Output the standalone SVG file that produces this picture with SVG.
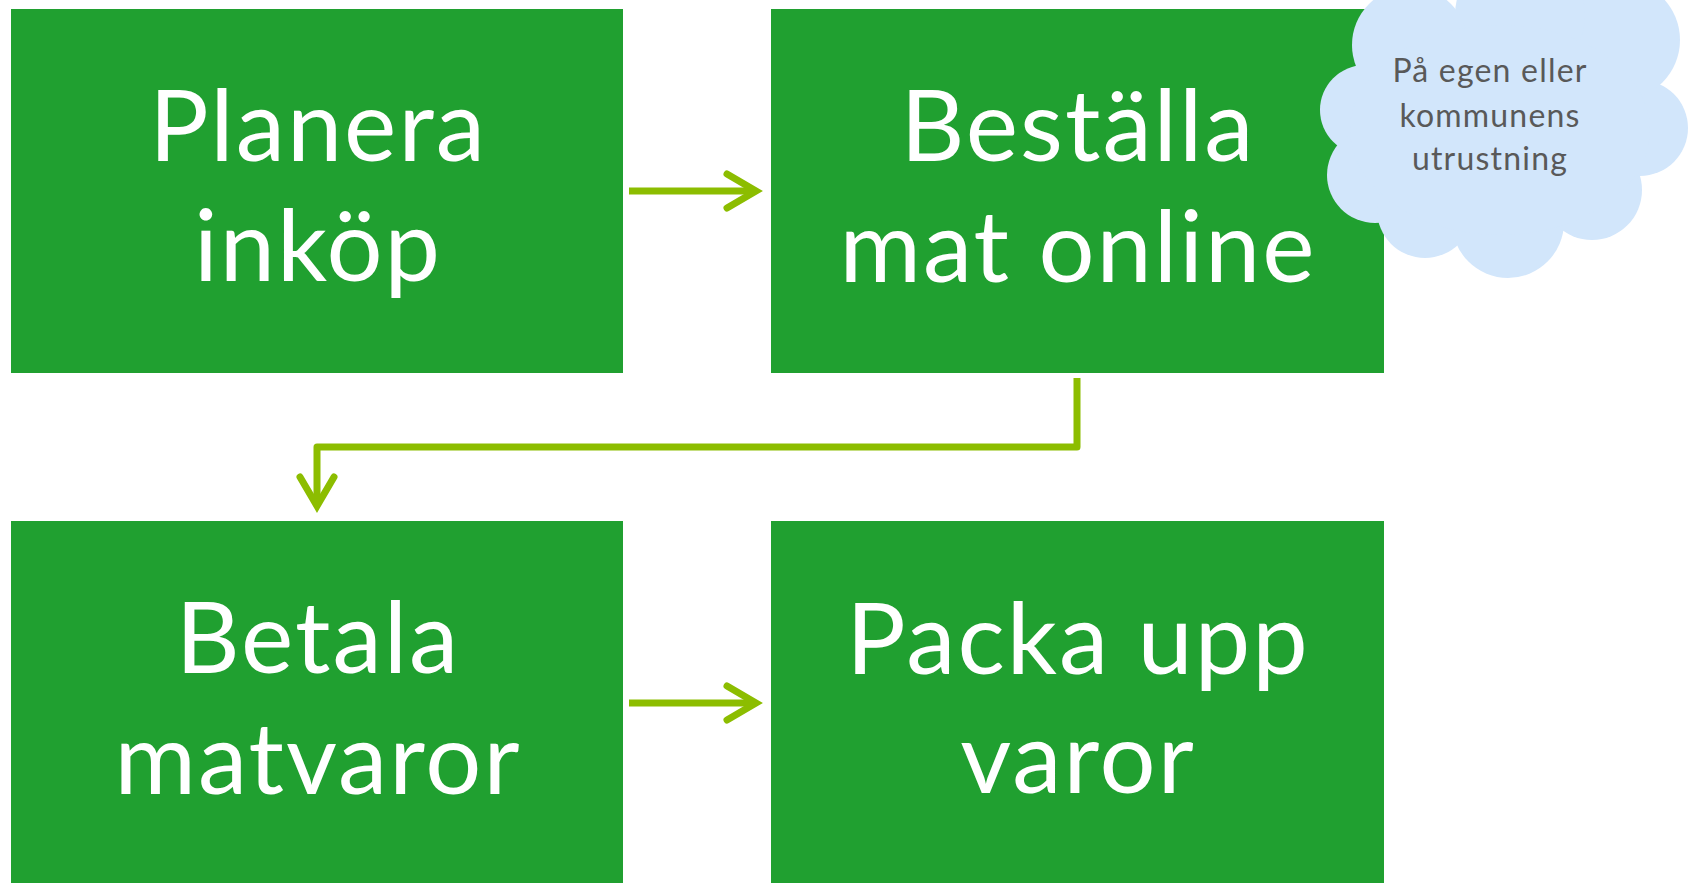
<svg xmlns="http://www.w3.org/2000/svg" width="1691" height="883" viewBox="0 0 1691 883">
<style>
.box{fill:#20A030}
.lbl{font-family:Lato,"Open Sans",sans-serif;font-size:99px;letter-spacing:2px;fill:#FFFFFF;text-anchor:middle}
.conn{fill:none;stroke:#8CBD00;stroke-width:7;stroke-linecap:butt;stroke-linejoin:round}
.head{fill:none;stroke:#8CBD00;stroke-width:7;stroke-linecap:round;stroke-linejoin:miter}
.cloud{fill:#D2E6FB}
.ctext{font-family:Lato,"Open Sans",sans-serif;font-size:32px;letter-spacing:1.2px;fill:#595959;text-anchor:middle}
</style>
<rect width="1691" height="883" fill="#FFFFFF"/>
<g id="node-planera">
<rect class="box" x="11" y="9" width="612" height="364"/>
<text class="lbl" x="318" y="161">Planera</text>
<text class="lbl" x="318" y="281">inköp</text>
</g>
<g id="node-bestalla">
<rect class="box" x="771" y="9" width="613" height="364"/>
<text class="lbl" x="1078" y="161">Beställa</text>
<text class="lbl" x="1078" y="282">mat online</text>
</g>
<g id="node-betala">
<rect class="box" x="11" y="521" width="612" height="362"/>
<text class="lbl" x="318" y="673">Betala</text>
<text class="lbl" x="318" y="794">matvaror</text>
</g>
<g id="node-packa">
<rect class="box" x="771" y="521" width="613" height="362"/>
<text class="lbl" x="1078" y="674">Packa upp</text>
<text class="lbl" x="1078" y="793">varor</text>
</g>
<g id="node-cloud">
<g class="cloud">
<circle cx="1365" cy="110" r="45"/>
<circle cx="1375" cy="175" r="48"/>
<circle cx="1425" cy="210" r="48"/>
<circle cx="1508" cy="222" r="56"/>
<circle cx="1592" cy="190" r="50"/>
<circle cx="1640" cy="128" r="48"/>
<circle cx="1620" cy="40" r="60"/>
<circle cx="1520" cy="15" r="65"/>
<circle cx="1410" cy="45" r="58"/>
<ellipse cx="1500" cy="130" rx="150" ry="105"/>
</g>
<text class="ctext" x="1490" y="82">På egen eller</text>
<text class="ctext" x="1490" y="127">kommunens</text>
<text class="ctext" x="1490" y="170">utrustning</text>
</g>
<g id="connectors">
<path class="conn" d="M629,191 L753,191"/>
<path class="head" d="M727,174 L756,191 L727,208"/>
<path class="conn" d="M1077,378 L1077,447 L317,447 L317,502"/>
<path class="head" d="M300,477 L317,506 L334,477"/>
<path class="conn" d="M629,703 L753,703"/>
<path class="head" d="M727,686 L756,703 L727,720"/>
</g>
</svg>
